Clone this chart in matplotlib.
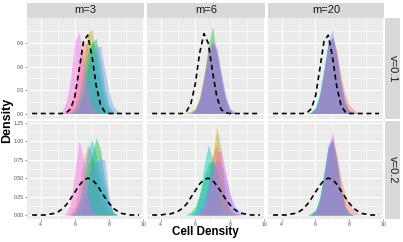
import numpy as np
import matplotlib
matplotlib.use("Agg")
import matplotlib.pyplot as plt

plt.rcParams['font.family'] = ['Liberation Sans', 'DejaVu Sans']

# grid the density curves were read on
xs = [5.0, 5.25, 5.5, 5.75, 6.0, 6.25, 6.5, 6.75, 7.0, 7.25, 7.5, 7.75, 8.0, 8.25, 8.5, 8.75, 9.0]
# grid of the dashed reference curve
xs_ref = [3.5, 3.75, 4.0, 4.25, 4.5, 4.75, 5.0, 5.25, 5.5, 5.75, 6.0, 6.25, 6.5,
          6.75, 7.0, 7.25, 7.5, 7.75, 8.0, 8.25, 8.5, 8.75, 9.0, 9.25, 9.5, 9.75]

m_labels = ["m=3", "m=6", "m=20"]
v_labels = ["v=0.1", "v=0.2"]
group_colors = ["#F8766D", "#B79F00", "#00BA38", "#00BFC4", "#619CFF", "#F564E3"]

# densities per group (red, olive, green, teal, blue, pink)
m3_v01 = [
    [0, 0, .02, .10, .31, .65, .92, .88, .58, .25, .08, .02, 0, 0, 0, 0, 0],
    [0, 0, 0, .01, .07, .25, .63, 1.02, 1.08, .72, .31, .09, .02, 0, 0, 0, 0],
    [0, 0, 0, 0, .02, .08, .26, .59, .90, .96, .66, .32, .10, .02, 0, 0, 0],
    [0, 0, 0, .01, .05, .18, .45, .77, .92, .77, .45, .18, .05, .01, 0, 0, 0],
    [0, 0, 0, 0, .01, .06, .18, .41, .69, .85, .86, .55, .26, .10, .03, 0, 0],
    [0, .03, .15, .45, .92, 1.04, .70, .30, .08, .01, 0, 0, 0, 0, 0, 0, 0],
]
m6_v01 = [
    [0, 0, 0, .01, .06, .21, .50, .81, .91, .72, .40, .15, .04, .01, 0, 0, 0],
    [0, 0, .01, .03, .07, .20, .46, .76, .90, .76, .44, .17, .04, .01, 0, 0, 0],
    [0, 0, 0, 0, .05, .17, .44, .85, 1.12, .72, .40, .16, .04, .01, 0, 0, 0],
    [0, 0, 0, 0, .04, .15, .40, .72, .91, .81, .50, .21, .06, .01, 0, 0, 0],
    [0, 0, 0, .01, .04, .15, .39, .70, .87, .80, .52, .23, .07, .02, 0, 0, 0],
    [0, 0, 0, 0, .04, .16, .42, .75, .93, .84, .50, .20, .05, .01, 0, 0, 0],
]
m20_v01 = [
    [0, 0, 0, 0, .05, .19, .48, .84, .97, .80, .48, .24, .11, .05, .02, 0, 0],
    [0, 0, 0, .01, .06, .21, .52, .87, .98, .76, .40, .14, .04, .01, 0, 0, 0],
    [0, 0, 0, .02, .08, .26, .58, .90, .96, .70, .34, .11, .02, 0, 0, 0, 0],
    [0, 0, 0, .01, .07, .24, .55, .89, .97, .73, .37, .12, .03, 0, 0, 0, 0],
    [0, 0, 0, 0, .05, .20, .52, .92, 1.08, .76, .38, .13, .03, .01, 0, 0, 0],
    [0, 0, 0, 0, .05, .20, .50, .86, 1.00, .78, .42, .16, .04, .01, 0, 0, 0],
]
m3_v02 = [
    [0, 0, 0, .03, .14, .39, .74, .95, .82, .47, .19, .05, .01, 0, 0, 0, 0],
    [0, 0, 0, 0, .05, .16, .39, .67, .80, .67, .39, .16, .05, .01, 0, 0, 0],
    [0, 0, 0, 0, 0, .03, .13, .41, .82, 1.05, .88, .47, .17, .04, 0, 0, 0],
    [0, 0, 0, 0, .05, .20, .51, .88, 1.03, .80, .55, .35, .15, .04, 0, 0, 0],
    [0, 0, 0, 0, .03, .10, .25, .45, .62, .72, .76, .75, .25, .02, 0, 0, 0],
    [0, 0, .02, .16, .59, 1.01, .77, .27, .04, 0, 0, 0, 0, 0, 0, 0, 0],
]
m6_v02 = [
    [0, 0, 0, 0, 0, .02, .13, .42, .82, .96, .67, .28, .07, .01, 0, 0, 0],
    [0, 0, 0, 0, 0, 0, .03, .22, .77, 1.20, .87, .28, .04, 0, 0, 0, 0],
    [0, 0, .01, .04, .12, .28, .50, .69, .74, .62, .40, .20, .08, .02, 0, 0, 0],
    [0, 0, 0, .01, .06, .26, .66, .95, .76, .35, .09, .01, 0, 0, 0, 0, 0],
    [0, 0, 0, 0, .02, .08, .20, .40, .61, .74, .70, .52, .30, .14, .06, .02, 0],
    [0, 0, 0, 0, 0, .01, .08, .25, .55, .84, .88, .60, .28, .08, .02, 0, 0],
]
m20_v02 = [
    [0, 0, 0, 0, .04, .17, .48, .86, 1.00, .82, .50, .28, .14, .06, .02, 0, 0],
    [0, 0, 0, .01, .05, .19, .51, .89, 1.02, .75, .36, .12, .02, 0, 0, 0, 0],
    [0, 0, 0, .02, .07, .24, .58, .93, 1.00, .70, .32, .10, .02, 0, 0, 0, 0],
    [0, 0, 0, .02, .06, .22, .55, .92, 1.02, .74, .35, .11, .02, 0, 0, 0, 0],
    [0, 0, 0, 0, .05, .20, .55, .96, 1.06, .74, .34, .10, .02, 0, 0, 0, 0],
    [0, 0, 0, 0, .04, .17, .48, .88, 1.14, .80, .38, .12, .02, 0, 0, 0, 0],
]

# dashed reference densities
ref_m3_v01 = [0, 0, 0, 0, 0, 0, 0, 0, .01, .06, .22, .56, .92, 1.00, .73, .35, .11, .02, 0, 0, 0, 0, 0, 0, 0, 0]
ref_m6_v01 = [0, 0, 0, 0, 0, 0, 0, 0, .03, .13, .38, .77, 1.02, .90, .53, .21, .05, .01, 0, 0, 0, 0, 0, 0, 0, 0]
ref_m20_v01 = [0, 0, 0, 0, 0, 0, 0, 0, .01, .06, .22, .56, .92, 1.00, .73, .35, .11, .02, 0, 0, 0, 0, 0, 0, 0, 0]
ref_m3_v02 = [0, 0, 0, 0, .01, .02, .04, .08, .14, .22, .31, .40, .47, .50, .48, .42, .33, .24, .16, .09, .05, .02, .01, 0, 0, 0]
ref_m6_v02 = [0, 0, 0, .01, .01, .03, .05, .09, .15, .24, .33, .42, .48, .50, .47, .40, .31, .22, .14, .08, .04, .02, .01, 0, 0, 0]
ref_m20_v02 = [0, 0, 0, 0, .01, .02, .04, .08, .14, .22, .31, .40, .47, .50, .48, .42, .33, .24, .16, .09, .05, .02, .01, 0, 0, 0]

panels = [[m3_v01, m6_v01, m20_v01], [m3_v02, m6_v02, m20_v02]]
refs = [[ref_m3_v01, ref_m6_v01, ref_m20_v01], [ref_m3_v02, ref_m6_v02, ref_m20_v02]]

y_ticks = [[0.0, 0.3, 0.6, 0.9], [0.0, 0.25, 0.5, 0.75, 1.0, 1.25]]
y_ticklabels = [["0.0", "0.3", "0.6", "0.9"], ["0.00", "0.25", "0.50", "0.75", "1.00", "1.25"]]
x_ticks = [4, 6, 8, 10]

# layout (pixels)
W, H = 403, 242
cols_px = [(27, 144), (147, 265), (268, 384)]
rows_px = [(18, 119), (121, 219)]
ylims = [(-0.07, 1.22), (-0.054, 1.274)]


def box(x0, y0, x1, y1):
    return [x0 / W, 1 - y1 / H, (x1 - x0) / W, (y1 - y0) / H]


fig = plt.figure(figsize=(W / 100, H / 100), dpi=100)

for r, (y0, y1) in enumerate(rows_px):
    for c, (x0, x1) in enumerate(cols_px):
        ax = fig.add_axes(box(x0, y0, x1, y1))
        ax.set_facecolor("#EBEBEB")
        for s in ax.spines.values():
            s.set_visible(False)
        ax.set_xlim(3.2, 10.04)
        ax.set_ylim(*ylims[r])

        # grid
        yt = y_ticks[r]
        step = yt[1] - yt[0]
        for v in x_ticks:
            ax.axvline(v, color="white", lw=0.8, zorder=0.5)
        for v in [3, 5, 7, 9]:
            ax.axvline(v, color="white", lw=0.4, zorder=0.5)
        for v in yt:
            ax.axhline(v, color="white", lw=0.8, zorder=0.5)
        for v in yt:
            ax.axhline(v + step / 2, color="white", lw=0.4, zorder=0.5)

        for dens, col in zip(panels[r][c], group_colors):
            ax.fill_between(xs, 0, dens, color=col, alpha=0.42, lw=0, zorder=2)
        ax.plot(xs_ref, refs[r][c], color="black", lw=1.2, ls=(0, (3, 2.2)), zorder=3)

        ax.set_xticks(x_ticks)
        ax.set_yticks(yt)
        ax.tick_params(length=1.3, width=0.4, color="#4D4D4D", labelsize=3.7,
                       labelcolor="#4D4D4D", pad=1)
        if r == 1:
            ax.set_xticklabels([str(v) for v in x_ticks])
        else:
            ax.tick_params(axis="x", length=0, labelbottom=False)
        if c == 0:
            ax.set_yticklabels(y_ticklabels[r])
        else:
            ax.tick_params(axis="y", length=0, labelleft=False)

# strips on top
for c, (x0, x1) in enumerate(cols_px):
    sax = fig.add_axes(box(x0, 3, x1, 17.5))
    sax.set_facecolor("#D9D9D9")
    sax.set_xticks([])
    sax.set_yticks([])
    for s in sax.spines.values():
        s.set_visible(False)
    sax.text(0.5, 0.5, m_labels[c], ha="center", va="center", fontsize=8,
             color="#1A1A1A", transform=sax.transAxes)

# strips on the right
for r, (y0, y1) in enumerate(rows_px):
    sax = fig.add_axes(box(385, y0, 400, y1))
    sax.set_facecolor("#D9D9D9")
    sax.set_xticks([])
    sax.set_yticks([])
    for s in sax.spines.values():
        s.set_visible(False)
    sax.text(0.5, 0.5, v_labels[r], ha="center", va="center", fontsize=8,
             color="#1A1A1A", rotation=-90, transform=sax.transAxes)

fig.text(205.5 / W, 1 - 232 / H, "Cell Density", ha="center", va="center",
         fontsize=8.4, fontweight="bold")
fig.text(7.5 / W, 1 - 120 / H, "Density", ha="center", va="center",
         fontsize=9, fontweight="bold", rotation=90)

fig.savefig("out.png", dpi=100)
